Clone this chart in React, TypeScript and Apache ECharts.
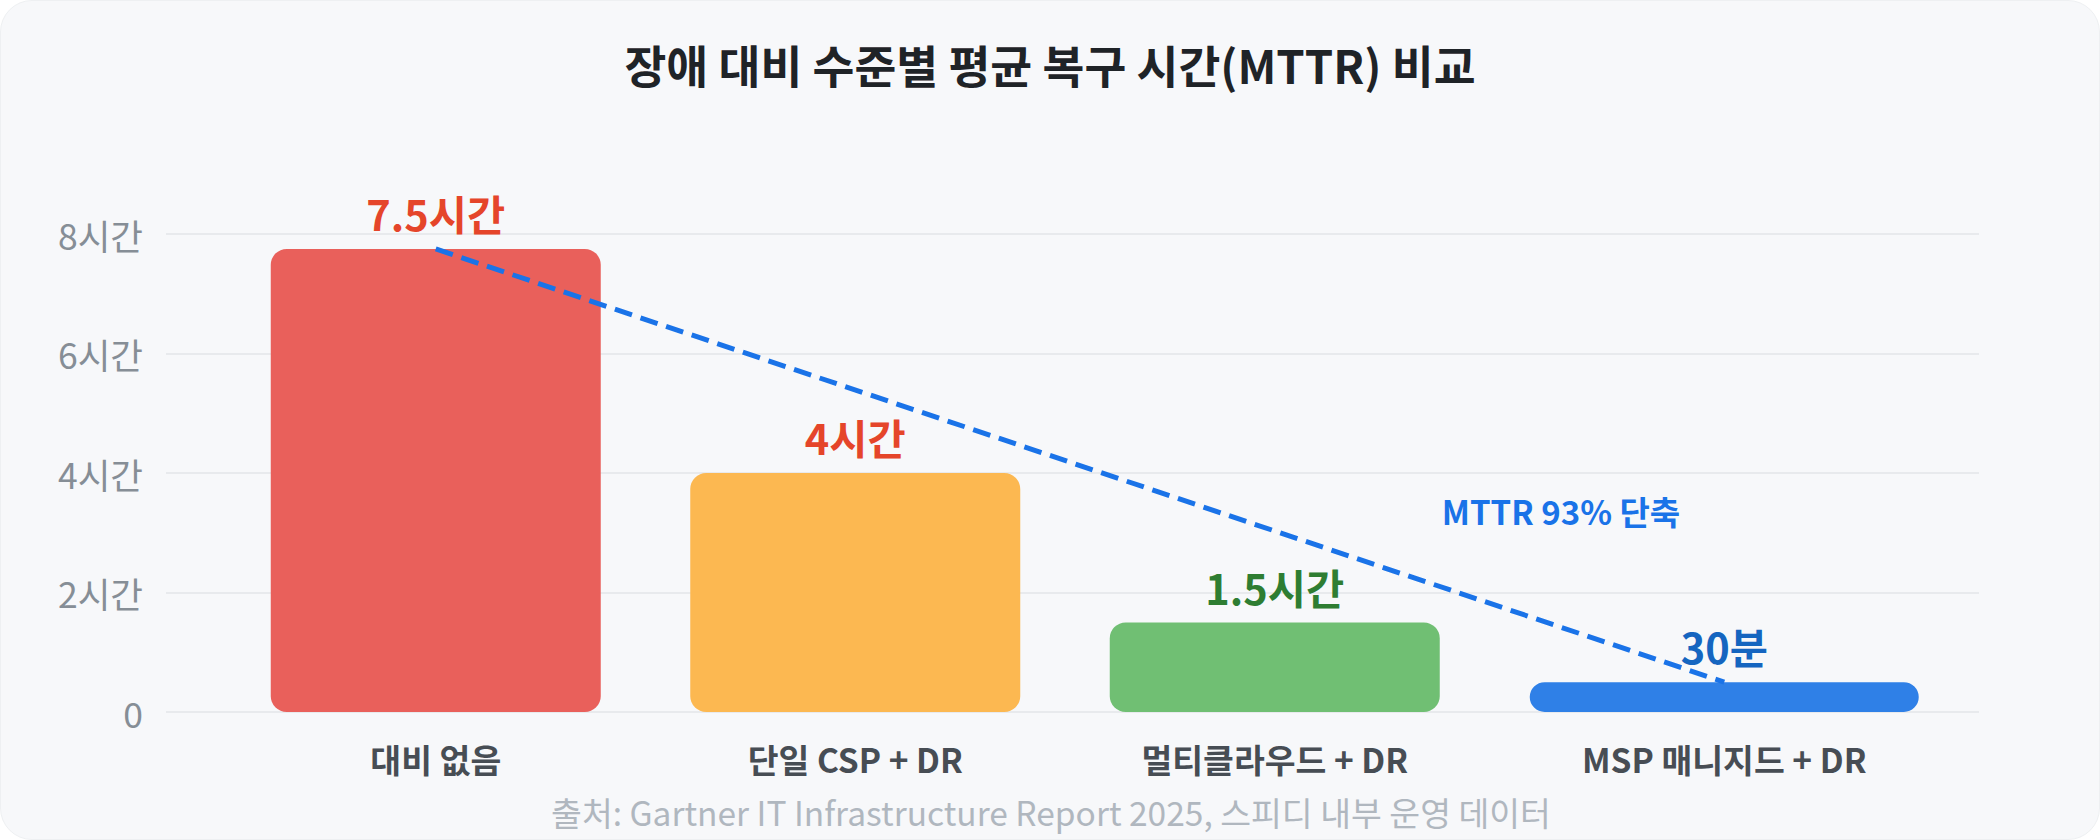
import React, { useEffect, useRef } from "react";
import * as echarts from "echarts";

const TITLE = "장애 대비 수준별 평균 복구 시간(MTTR) 비교";
const SOURCE = "출처: Gartner IT Infrastructure Report 2025, 스피디 내부 운영 데이터";
const ANNOTATION = "MTTR 93% 단축";

const categories = ["대비 없음", "단일 CSP + DR", "멀티클라우드 + DR", "MSP 매니지드 + DR"];
// hours (bar heights as drawn)
const mttrHours = [7.75, 4, 1.5, 0.5];
const valueLabels = ["7.5시간", "4시간", "1.5시간", "30분"];
const barColors = ["#e9605b", "#fcb851", "#70bf73", "#2f80e7"];
const labelColors = ["#e5452a", "#e5452a", "#2e7d32", "#1565c0"];
const yTicks = [0, 2, 4, 6, 8];

const FONT = '"Noto Sans CJK KR", "Noto Sans", sans-serif';

export default function App() {
  const ref = useRef<HTMLDivElement>(null);

  useEffect(() => {
    document.body.style.margin = "0";
    if (!ref.current) return;
    const chart = echarts.init(ref.current, undefined, { renderer: "svg" });

    const last = mttrHours.length - 1;
    const mainData = mttrHours.map((v, i) =>
      i === last
        ? "-"
        : {
            value: v,
            itemStyle: { color: barColors[i] },
            label: { color: labelColors[i] },
          }
    );
    const lastData = mttrHours.map((v, i) =>
      i === last
        ? { value: v, itemStyle: { color: barColors[i] }, label: { color: labelColors[i] } }
        : "-"
    );
    const trendData = mttrHours.map((v, i) => (i === 0 || i === last ? v : "-"));

    const yMax = yTicks[yTicks.length - 1];
    const valueLabel = {
      show: true,
      position: "top",
      distance: 15,
      fontSize: 41.5,
      fontWeight: "bold",
      fontFamily: FONT,
      formatter: (p: any) => valueLabels[p.dataIndex],
    };
    const xLabelBase = {
      margin: 30,
      fontSize: 33.5,
      fontWeight: "bold",
      color: "#474d54",
      fontFamily: FONT,
    };

    chart.setOption({
      animation: false,
      textStyle: { fontFamily: FONT },
      title: {
        text: TITLE,
        left: "center",
        top: 40,
        padding: 0,
        textStyle: { fontSize: 45.5, fontWeight: "bold", color: "#1f2327", fontFamily: FONT },
      },
      grid: [
        { left: 165, right: 120, top: 233, bottom: 127 },
        { left: 225, right: 195, top: 233, bottom: 127 },
        { left: 220, right: 160, top: 233, bottom: 127 },
      ],
      xAxis: [
        { type: "category", gridIndex: 0, data: categories, show: false },
        {
          type: "category",
          gridIndex: 1,
          data: categories,
          axisLine: { show: false },
          axisTick: { show: false },
          axisLabel: {
            ...xLabelBase,
            interval: 0,
            formatter: (v: string, i: number) => (i === last ? "" : v),
          },
        },
        {
          type: "category",
          gridIndex: 2,
          data: categories,
          axisLine: { show: false },
          axisTick: { show: false },
          axisLabel: {
            ...xLabelBase,
            interval: 0,
            formatter: (v: string, i: number) => (i === last ? v : ""),
          },
        },
      ],
      yAxis: [
        {
          type: "value",
          gridIndex: 0,
          min: 0,
          max: yMax,
          interval: 2,
          axisLine: { show: false },
          axisTick: { show: false },
          splitLine: { lineStyle: { color: "#e8eaed", width: 2 } },
          axisLabel: {
            margin: 23,
            fontSize: 35.5,
            color: "#868e96",
            fontFamily: FONT,
            formatter: (v: number) => (v === 0 ? "0" : `${v}시간`),
          },
        },
        { type: "value", gridIndex: 1, min: 0, max: yMax, show: false },
        { type: "value", gridIndex: 2, min: 0, max: yMax, show: false },
      ],
      series: [
        {
          type: "bar",
          xAxisIndex: 1,
          yAxisIndex: 1,
          barWidth: 330,
          data: mainData,
          itemStyle: { borderRadius: 16 },
          label: valueLabel,
          z: 2,
        },
        {
          type: "bar",
          xAxisIndex: 2,
          yAxisIndex: 2,
          barWidth: 389,
          data: lastData,
          itemStyle: { borderRadius: 16 },
          label: valueLabel,
          z: 2,
        },
        {
          type: "line",
          xAxisIndex: 2,
          yAxisIndex: 2,
          data: trendData,
          connectNulls: true,
          symbol: "none",
          lineStyle: { color: "#1a73e8", width: 5, type: [18, 9] },
          z: 5,
        },
      ],
      graphic: [
        {
          type: "text",
          x: 1560,
          y: 510,
          style: {
            text: ANNOTATION,
            fill: "#1a73e8",
            fontSize: 33,
            fontWeight: "bold",
            fontFamily: FONT,
            textAlign: "center",
            textVerticalAlign: "middle",
          },
        },
        {
          type: "text",
          x: 1050,
          y: 810,
          style: {
            text: SOURCE,
            fill: "#b0b7bf",
            fontSize: 33.5,
            fontFamily: FONT,
            textAlign: "center",
            textVerticalAlign: "middle",
          },
        },
      ],
    });

    return () => chart.dispose();
  }, []);

  return (
    <div
      style={{
        width: 2100,
        height: 840,
        background: "#f7f8fa",
        borderRadius: 32,
        overflow: "hidden",
        boxSizing: "border-box",
        border: "1px solid #eef0f2",
      }}
    >
      <div ref={ref} style={{ width: 2098, height: 838 }} />
    </div>
  );
}
